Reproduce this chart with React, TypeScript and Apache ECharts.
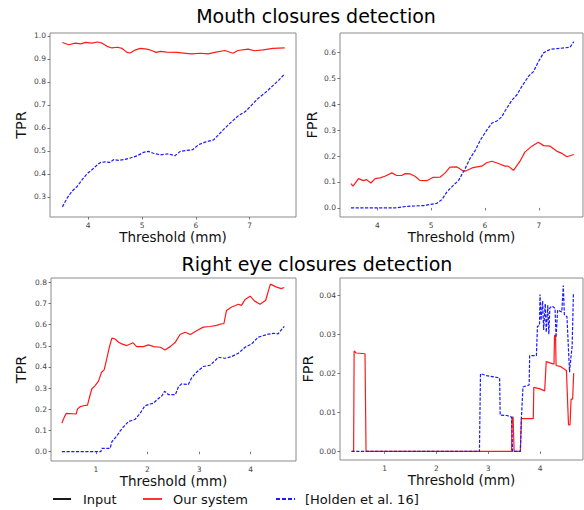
import React, { useEffect, useRef } from "react";
import * as echarts from "echarts";

// ---------- data ----------
const titles = ["Mouth closures detection", "Right eye closures detection"];
const legendNames = ["Input", "Our system", "[Holden et al. 16]"];

const mouthXTicks = [4, 5, 6, 7];
const mouthTprTicks = [0.3, 0.4, 0.5, 0.6, 0.7, 0.8, 0.9, 1.0];
const mouthFprTicks = [0.0, 0.1, 0.2, 0.3, 0.4, 0.5, 0.6];
const eyeXTicks = [1, 2, 3, 4];
const eyeTprTicks = [0.0, 0.1, 0.2, 0.3, 0.4, 0.5, 0.6, 0.7, 0.8];
const eyeFprTicks = [0.0, 0.01, 0.02, 0.03, 0.04];

const mouthTprOurs = [
  [3.52, 0.971], [3.64, 0.961], [3.76, 0.968], [3.86, 0.965], [3.95, 0.971], [4.07, 0.968],
  [4.17, 0.973], [4.26, 0.968], [4.35, 0.954], [4.44, 0.947], [4.54, 0.95], [4.63, 0.945],
  [4.72, 0.928], [4.78, 0.925], [4.88, 0.939], [4.97, 0.945], [5.09, 0.942], [5.18, 0.936],
  [5.26, 0.928], [5.34, 0.932], [5.46, 0.929], [5.65, 0.928], [5.77, 0.925], [5.92, 0.921],
  [6.08, 0.924], [6.23, 0.921], [6.35, 0.928], [6.54, 0.936], [6.69, 0.924], [6.78, 0.936],
  [6.97, 0.942], [7.09, 0.935], [7.25, 0.939], [7.43, 0.945], [7.65, 0.947],
];
const mouthTprHolden = [
  [3.52, 0.257], [3.61, 0.296], [3.7, 0.325], [3.8, 0.347], [3.89, 0.376], [3.98, 0.401],
  [4.07, 0.418], [4.17, 0.44], [4.23, 0.45], [4.32, 0.452], [4.4, 0.45], [4.47, 0.462],
  [4.56, 0.459], [4.66, 0.462], [4.78, 0.469], [4.91, 0.479], [5.03, 0.494], [5.12, 0.498],
  [5.21, 0.49], [5.34, 0.483], [5.49, 0.487], [5.61, 0.479], [5.71, 0.498], [5.83, 0.502],
  [5.94, 0.505], [6.05, 0.527], [6.17, 0.538], [6.33, 0.548], [6.42, 0.57], [6.54, 0.599],
  [6.67, 0.628], [6.79, 0.653], [6.92, 0.671], [7.04, 0.7], [7.16, 0.729], [7.29, 0.753],
  [7.41, 0.779], [7.53, 0.805], [7.65, 0.834],
];
const mouthFprOurs = [
  [3.51, 0.094], [3.55, 0.084], [3.65, 0.113], [3.74, 0.105], [3.8, 0.109], [3.88, 0.096],
  [3.96, 0.113], [4.05, 0.116], [4.14, 0.122], [4.27, 0.135], [4.36, 0.125], [4.45, 0.125],
  [4.52, 0.132], [4.61, 0.131], [4.7, 0.122], [4.79, 0.106], [4.92, 0.105], [5.04, 0.118],
  [5.17, 0.119], [5.26, 0.135], [5.35, 0.157], [5.48, 0.158], [5.54, 0.15], [5.6, 0.141],
  [5.66, 0.144], [5.76, 0.154], [5.85, 0.158], [5.94, 0.161], [6.03, 0.174], [6.13, 0.18],
  [6.25, 0.171], [6.37, 0.161], [6.43, 0.161], [6.53, 0.145], [6.65, 0.18], [6.74, 0.215],
  [6.87, 0.238], [6.99, 0.253], [7.09, 0.24], [7.21, 0.238], [7.33, 0.219], [7.43, 0.21],
  [7.52, 0.197], [7.65, 0.206],
];
const mouthFprHolden = [
  [3.51, 0.0], [4.33, 0.0], [4.55, 0.006], [4.86, 0.009], [5.1, 0.017], [5.2, 0.032],
  [5.29, 0.061], [5.41, 0.087], [5.51, 0.106], [5.63, 0.151], [5.72, 0.19], [5.82, 0.222],
  [5.91, 0.26], [6.03, 0.299], [6.13, 0.327], [6.22, 0.335], [6.31, 0.351], [6.4, 0.383],
  [6.5, 0.415], [6.59, 0.435], [6.68, 0.467], [6.81, 0.508], [6.9, 0.525], [6.99, 0.563],
  [7.09, 0.598], [7.21, 0.611], [7.4, 0.615], [7.58, 0.619], [7.65, 0.641],
];
const eyeTprOurs = [
  [0.34, 0.134], [0.386, 0.162], [0.425, 0.181], [0.618, 0.178], [0.645, 0.202], [0.7, 0.213],
  [0.76, 0.217], [0.837, 0.22], [0.876, 0.257], [0.92, 0.296], [0.985, 0.312], [1.05, 0.333],
  [1.11, 0.375], [1.16, 0.386], [1.21, 0.438], [1.26, 0.493], [1.31, 0.536], [1.37, 0.532],
  [1.44, 0.517], [1.5, 0.509], [1.6, 0.501], [1.72, 0.514], [1.79, 0.496], [1.92, 0.496],
  [2.02, 0.504], [2.12, 0.496], [2.25, 0.493], [2.34, 0.48], [2.44, 0.496], [2.54, 0.517],
  [2.63, 0.553], [2.73, 0.564], [2.83, 0.553], [2.96, 0.572], [3.08, 0.588], [3.21, 0.591],
  [3.34, 0.596], [3.44, 0.604], [3.48, 0.604], [3.53, 0.667], [3.63, 0.683], [3.76, 0.696],
  [3.82, 0.691], [3.89, 0.718], [3.99, 0.734], [4.07, 0.712], [4.18, 0.696], [4.29, 0.715],
  [4.38, 0.791], [4.49, 0.778], [4.59, 0.77], [4.65, 0.775],
];
const eyeTprHolden = [
  [0.34, 0.0], [1.096, 0.0], [1.115, 0.016], [1.276, 0.016], [1.31, 0.047], [1.405, 0.074],
  [1.47, 0.098], [1.534, 0.117], [1.63, 0.142], [1.76, 0.153], [1.857, 0.181], [1.95, 0.217],
  [2.05, 0.225], [2.11, 0.228], [2.18, 0.244], [2.28, 0.264], [2.33, 0.285], [2.41, 0.269],
  [2.54, 0.269], [2.6, 0.307], [2.66, 0.32], [2.79, 0.317], [2.86, 0.351], [2.95, 0.375],
  [3.08, 0.402], [3.21, 0.408], [3.31, 0.43], [3.37, 0.446], [3.5, 0.441], [3.63, 0.449],
  [3.76, 0.465], [3.89, 0.493], [4.02, 0.509], [4.14, 0.54], [4.31, 0.553], [4.44, 0.559],
  [4.53, 0.556], [4.65, 0.592],
];
const eyeFprOurs = [
  [0.36, 0], [0.4, 0], [0.41, 0.0257], [0.45, 0.0252], [0.62, 0.025], [0.64, 0], [3.45, 0],
  [3.46, 0.0088], [3.48, 0.0088], [3.5, 0], [3.62, 0], [3.64, 0.0084], [3.87, 0.0084],
  [3.88, 0.0164], [4.0, 0.016], [4.09, 0.0155], [4.12, 0.023], [4.25, 0.0224], [4.27, 0.0224],
  [4.28, 0.0297], [4.3, 0.0297], [4.31, 0.022], [4.4, 0.0217], [4.51, 0.0207], [4.55, 0.0068],
  [4.58, 0.0068], [4.6, 0.0134], [4.63, 0.0134], [4.65, 0.02],
];
const eyeFprHolden = [
  [0.36, 0], [2.83, 0], [2.85, 0.0199], [2.97, 0.0194], [3.22, 0.0188], [3.23, 0.0093],
  [3.36, 0.0092], [3.45, 0.0088], [3.47, 0], [3.62, 0], [3.64, 0.0084], [3.67, 0.0165],
  [3.79, 0.017], [3.8, 0.0245], [3.93, 0.0245], [3.95, 0.032], [3.99, 0.0322], [4.0, 0.0402],
  [4.02, 0.0336], [4.05, 0.0385], [4.07, 0.0311], [4.1, 0.0378], [4.12, 0.0305], [4.15, 0.0374],
  [4.17, 0.03], [4.19, 0.0368], [4.24, 0.0372], [4.29, 0.0366], [4.31, 0.0292], [4.34, 0.0362],
  [4.42, 0.0357], [4.45, 0.0425], [4.47, 0.035], [4.52, 0.0345], [4.57, 0.0203], [4.6, 0.0245],
  [4.62, 0.0268], [4.645, 0.0404], [4.66, 0.0404],
];

const RED = "#ff1a1a";
const BLUE = "#1a1aff";
const FONT = "DejaVu Sans";

function xAxisCfg(gridIndex: number, min: number, max: number, ticks: number[], nameGap: number) {
  return {
    type: "value", gridIndex, min, max,
    name: "Threshold (mm)", nameLocation: "middle", nameGap,
    nameTextStyle: { fontSize: 13.5, color: "#111", fontFamily: FONT },
    axisLine: { show: false },
    axisTick: { show: true, inside: false, length: 2.5, customValues: ticks, lineStyle: { color: "#555", width: 0.8 } },
    axisLabel: { customValues: ticks, formatter: (v: number) => String(v), fontSize: 7.5, color: "#444", margin: 4, fontFamily: FONT },
    splitLine: { show: false },
  };
}
function yAxisCfg(gridIndex: number, min: number, max: number, ticks: number[], name: string, nameGap: number, dec: number) {
  return {
    type: "value", gridIndex, min, max,
    name, nameLocation: "middle", nameGap, nameRotate: 90,
    nameTextStyle: { fontSize: 14.5, color: "#111", fontFamily: FONT },
    axisLine: { show: false },
    axisTick: { show: true, inside: false, length: 2.5, customValues: ticks, lineStyle: { color: "#555", width: 0.8 } },
    axisLabel: { customValues: ticks, formatter: (v: number) => v.toFixed(dec), fontSize: 7.5, color: "#444", margin: 4, fontFamily: FONT },
    splitLine: { show: false },
  };
}
function lineSeries(idx: number, name: string, data: number[][], dashed: boolean) {
  return {
    type: "line", name, xAxisIndex: idx, yAxisIndex: idx, data,
    symbol: "none", showSymbol: false, silent: true,
    lineStyle: { color: dashed ? BLUE : RED, width: 1.2, type: dashed ? [3.2, 1.5] : "solid" },
    itemStyle: { color: dashed ? BLUE : RED },
  };
}

export default function App() {
  const ref = useRef<HTMLDivElement>(null);
  useEffect(() => {
    if (!ref.current) return;
    const chart = echarts.init(ref.current, undefined, { renderer: "svg" });
    const gridStyle = { show: true, borderColor: "#8a8a8a", borderWidth: 1, backgroundColor: "transparent" };
    chart.setOption({
      animation: false,
      textStyle: { fontFamily: FONT },
      grid: [
        { left: 50, top: 33, width: 246, height: 184, ...gridStyle },
        { left: 340, top: 33, width: 243, height: 184, ...gridStyle },
        { left: 51, top: 278, width: 245, height: 183, ...gridStyle },
        { left: 340, top: 278, width: 243, height: 182, ...gridStyle },
      ],
      xAxis: [
        xAxisCfg(0, 3.29, 7.86, mouthXTicks, 13),
        xAxisCfg(1, 3.307, 7.82, mouthXTicks, 13),
        xAxisCfg(2, 0.13, 4.877, eyeXTicks, 9),
        xAxisCfg(3, 0.137, 4.83, eyeXTicks, 9),
      ],
      yAxis: [
        yAxisCfg(0, 0.213, 1.012, mouthTprTicks, "TPR", 22, 1),
        yAxisCfg(1, -0.035, 0.674, mouthFprTicks, "FPR", 21, 1),
        yAxisCfg(2, -0.044, 0.82, eyeTprTicks, "TPR", 23, 1),
        yAxisCfg(3, -0.0022, 0.0444, eyeFprTicks, "FPR", 20, 2),
      ],
      series: [
        lineSeries(0, legendNames[1], mouthTprOurs, false),
        lineSeries(0, legendNames[2], mouthTprHolden, true),
        lineSeries(1, legendNames[1], mouthFprOurs, false),
        lineSeries(1, legendNames[2], mouthFprHolden, true),
        lineSeries(2, legendNames[1], eyeTprOurs, false),
        lineSeries(2, legendNames[2], eyeTprHolden, true),
        lineSeries(3, legendNames[1], eyeFprOurs, false),
        lineSeries(3, legendNames[2], eyeFprHolden, true),
      ],
      graphic: [
        { type: "text", x: 316, y: 15.5, style: { text: titles[0], fontSize: 19, fontFamily: FONT, fill: "#000", align: "center", verticalAlign: "middle" } },
        { type: "text", x: 317, y: 264, style: { text: titles[1], fontSize: 19, fontFamily: FONT, fill: "#000", align: "center", verticalAlign: "middle" } },
        { type: "line", shape: { x1: 53, y1: 499, x2: 71, y2: 499 }, style: { stroke: "#000", lineWidth: 1.8 } },
        { type: "text", x: 83, y: 499, style: { text: legendNames[0], fontSize: 13, fontFamily: FONT, fill: "#111", verticalAlign: "middle" } },
        { type: "line", shape: { x1: 143, y1: 499, x2: 162, y2: 499 }, style: { stroke: RED, lineWidth: 1.8 } },
        { type: "text", x: 173, y: 499, style: { text: legendNames[1], fontSize: 13, fontFamily: FONT, fill: "#111", verticalAlign: "middle" } },
        { type: "line", shape: { x1: 276, y1: 499, x2: 295, y2: 499 }, style: { stroke: BLUE, lineWidth: 1.8, lineDash: [4, 2] } },
        { type: "text", x: 305, y: 499, style: { text: legendNames[2], fontSize: 13, fontFamily: FONT, fill: "#111", verticalAlign: "middle" } },
      ],
    });
    return () => chart.dispose();
  }, []);
  return <div ref={ref} style={{ position: "absolute", left: 0, top: 0, width: 584, height: 510 }} />;
}
